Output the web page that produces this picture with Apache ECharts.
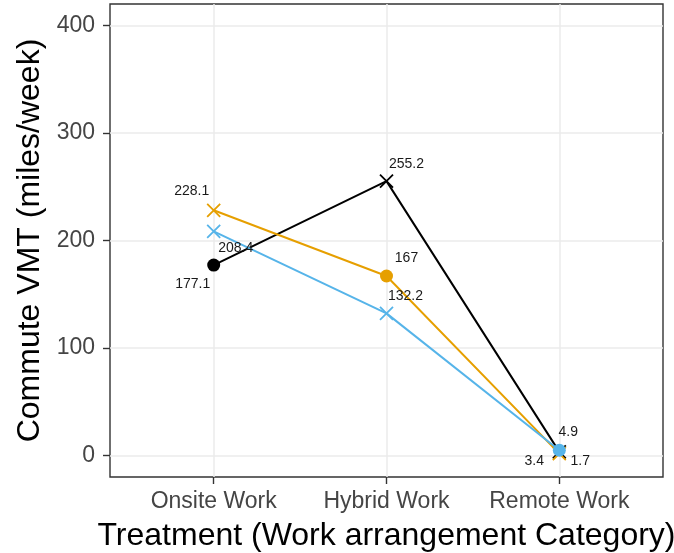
<!DOCTYPE html>
<html>
<head>
<meta charset="utf-8">
<script src="https://cdn.jsdelivr.net/npm/echarts@6/dist/echarts.min.js"></script>
<style>
html,body{margin:0;padding:0;background:#fff;}
#chart{width:674px;height:553px;}
</style>
</head>
<body>
<div id="chart"></div>
<script>
const categories = ['Onsite Work', 'Hybrid Work', 'Remote Work'];
const yTicks = [0, 100, 200, 300, 400];
const blackValues = [177.1, 255.2, 3.4];
const orangeValues = [228.1, 167, 1.7];
const blueValues = [208.4, 132.2, 4.9];
const blackShapes = ['circle', 'cross', 'cross'];
const orangeShapes = ['cross', 'circle', 'cross'];
const blueShapes = ['cross', 'cross', 'circle'];

const FONT = '"Liberation Sans", Arial, Helvetica, sans-serif';
const CROSS = 'path://M0,0L10,10M10,0L0,10';

function makeSeries(name, color, values, shapes, offsets, z) {
  return {
    name: name,
    type: 'line',
    z: z,
    showAllSymbol: true,
    lineStyle: { color: color, width: 2 },
    data: values.map(function (v, i) {
      const isCircle = shapes[i] === 'circle';
      return {
        value: [i + 1, v],
        symbol: isCircle ? 'circle' : CROSS,
        symbolSize: 13,
        itemStyle: isCircle
          ? { color: color, borderWidth: 0 }
          : { color: color, borderColor: color, borderWidth: 1.8 },
        label: {
          show: true,
          position: 'inside',
          offset: offsets[i],
          formatter: String(v),
          fontSize: 14,
          fontFamily: FONT,
          color: '#1a1a1a',
          align: 'center',
          verticalAlign: 'middle'
        }
      };
    }),
    emphasis: { disabled: true },
    animation: false
  };
}

const chart = echarts.init(document.getElementById('chart'), null, { renderer: 'canvas' });
chart.setOption({
  backgroundColor: '#ffffff',
  animation: false,
  grid: {
    left: 110, right: 11, top: 4, bottom: 76,
    outerBoundsMode: 'none',
    containLabel: false,
    show: true, borderColor: '#333333', borderWidth: 1.4, backgroundColor: 'transparent'
  },
  xAxis: {
    type: 'value',
    min: 0.4, max: 3.6,
    name: 'Treatment (Work arrangement Category)',
    nameLocation: 'middle',
    nameGap: 43,
    nameTextStyle: { fontSize: 32, fontFamily: FONT, color: '#000' },
    axisLine: { show: false, onZero: false },
    axisTick: { show: true, inside: false, length: 7, customValues: [1, 2, 3], lineStyle: { color: '#333', width: 1.4 } },
    axisLabel: {
      customValues: [1, 2, 3],
      margin: 13,
      fontSize: 23, fontFamily: FONT, color: '#454545',
      formatter: function (v) { return categories[Math.round(v) - 1] || ''; }
    },
    splitLine: { show: true, customValues: [1, 2, 3], lineStyle: { color: '#ebebeb', width: 1.5 } }
  },
  yAxis: {
    type: 'value',
    min: -20, max: 420,
    name: 'Commute VMT (miles/week)',
    nameLocation: 'middle',
    nameGap: 57,
    nameTextStyle: { fontSize: 32, fontFamily: FONT, color: '#000' },
    axisLine: { show: false, onZero: false },
    axisTick: { show: true, inside: false, length: 7, customValues: yTicks, lineStyle: { color: '#333', width: 1.4 } },
    axisLabel: {
      customValues: yTicks,
      margin: 15,
      fontSize: 23, fontFamily: FONT, color: '#454545'
    },
    splitLine: { show: true, customValues: yTicks, lineStyle: { color: '#ebebeb', width: 1.5 } }
  },
  series: [
    makeSeries('black', '#000000', blackValues, blackShapes, [[-21, 19], [20, -17], [-25, 9]], 2),
    makeSeries('orange', '#E69F00', orangeValues, orangeShapes, [[-22, -19], [20, -18], [21, 7]], 3),
    makeSeries('blue', '#56B4E9', blueValues, blueShapes, [[22, 17], [19, -17], [9, -18]], 4)
  ]
});
</script>
</body>
</html>
